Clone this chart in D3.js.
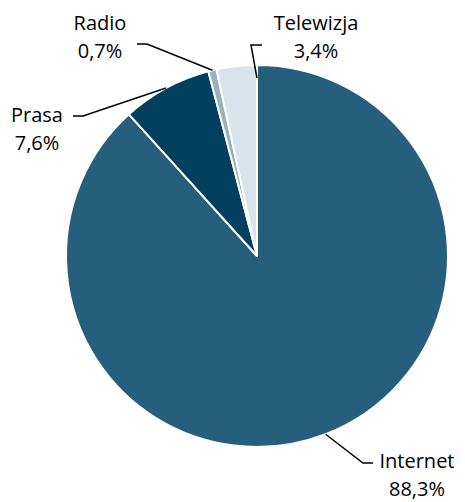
<!DOCTYPE html>
<html>
<head>
<meta charset="utf-8">
<script src="https://cdn.jsdelivr.net/npm/d3@7"></script>
<style>
  body { margin: 0; background: #fff; }
  svg text { font-family: "Open Sans", sans-serif; font-size: 20px; fill: #000; }
</style>
</head>
<body>
<svg width="465" height="502"></svg>
<script>
let categories = ["Internet", "Prasa", "Radio", "Telewizja"];
let values = [88.3, 7.6, 0.7, 3.4];
let valueLabels = ["88,3%", "7,6%", "0,7%", "3,4%"];

let colors = ["#265f7b", "#03405f", "#9ab2c0", "#dae3e9"];

// label layout: text centre, elbow and end of the leader line
let labelPos = [
  { x: 417, y: 468, elbow: [363, 463], end: [373, 463] },
  { x: 37, y: 122, elbow: [83, 116], end: [73, 116] },
  { x: 100, y: 30, elbow: [147, 44], end: [137, 44] },
  { x: 316, y: 30, elbow: [251, 45], end: [262, 45], anchor: 0.999, r: 178 },
];

let svg = d3.select("svg");
let cx = 257, cy = 256, radius = 191;

let pie = d3.pie().sort(null).value((d) => d);
let arcs = pie(values);
let arc = d3.arc().innerRadius(0).outerRadius(radius);

let g = svg.append("g").attr("transform", `translate(${cx},${cy})`);
g.selectAll("path")
  .data(arcs)
  .enter()
  .append("path")
  .attr("d", arc)
  .attr("fill", (d, i) => colors[i])
  .attr("stroke", "#fff")
  .attr("stroke-width", 2)
  .attr("stroke-linejoin", "round");

// leader lines
arcs.forEach((d, i) => {
  let p = labelPos[i];
  let t = p.anchor != null ? d.startAngle + (d.endAngle - d.startAngle) * p.anchor : (d.startAngle + d.endAngle) / 2;
  let r = p.r || radius;
  let start = [cx + r * Math.sin(t), cy - r * Math.cos(t)];
  svg.append("path")
    .attr("d", d3.line()([start, p.elbow, p.end]))
    .attr("fill", "none")
    .attr("stroke", "#000")
    .attr("stroke-width", 1.5);

  let txt = svg.append("text").attr("text-anchor", "middle");
  txt.append("tspan").attr("x", p.x).attr("y", p.y).text(categories[i]);
  txt.append("tspan").attr("x", p.x).attr("y", p.y + 28).text(valueLabels[i]);
});
</script>
</body>
</html>
